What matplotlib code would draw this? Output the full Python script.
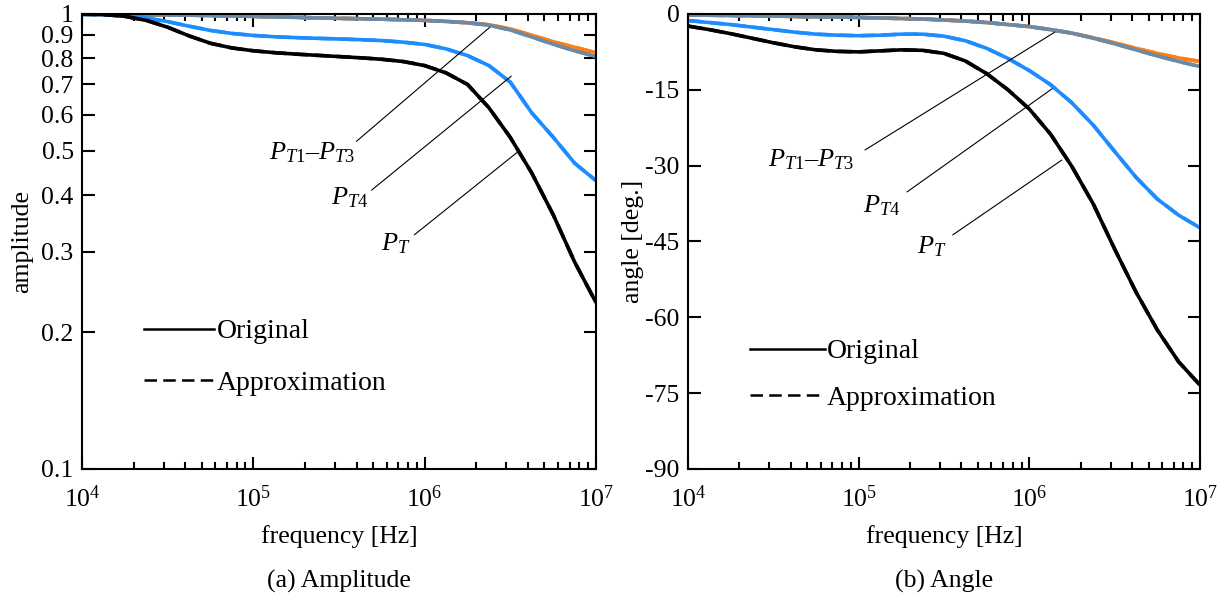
import numpy as np
import matplotlib
matplotlib.use("Agg")
import matplotlib.pyplot as plt
from matplotlib.lines import Line2D

plt.rcParams['font.family'] = ['Liberation Serif', 'DejaVu Serif']
plt.rcParams['mathtext.fontset'] = 'custom'
plt.rcParams['mathtext.rm'] = 'Liberation Serif'
plt.rcParams['mathtext.it'] = 'Liberation Serif:italic'
plt.rcParams['axes.unicode_minus'] = False

# frequency grid (log10 Hz)
log_f = [4.0, 4.125, 4.25, 4.375, 4.5, 4.625, 4.75, 4.875, 5.0, 5.125, 5.25, 5.375,
         5.5, 5.625, 5.75, 5.875, 6.0, 6.125, 6.25, 6.375, 6.5, 6.625, 6.75, 6.875, 7.0]

# amplitude
amp_pt = [0.999, 0.997, 0.988, 0.968, 0.935, 0.895, 0.862, 0.842, 0.830, 0.822, 0.816, 0.811,
          0.806, 0.801, 0.795, 0.786, 0.770, 0.742, 0.700, 0.622, 0.535, 0.447, 0.362, 0.285, 0.232]
amp_pt4 = [0.998, 0.997, 0.992, 0.980, 0.962, 0.940, 0.920, 0.906, 0.897, 0.891, 0.887, 0.884,
           0.881, 0.878, 0.874, 0.867, 0.857, 0.838, 0.810, 0.770, 0.708, 0.606, 0.536, 0.470, 0.430]
amp_pt1 = [0.998, 0.998, 0.997, 0.996, 0.995, 0.994, 0.992, 0.990, 0.988, 0.985, 0.983, 0.980,
           0.978, 0.976, 0.974, 0.971, 0.968, 0.963, 0.957, 0.947, 0.927, 0.898, 0.869, 0.845, 0.822]
amp_pt23 = [0.998, 0.998, 0.997, 0.996, 0.995, 0.994, 0.992, 0.990, 0.988, 0.985, 0.983, 0.980,
            0.978, 0.976, 0.974, 0.971, 0.968, 0.963, 0.956, 0.945, 0.922, 0.890, 0.858, 0.830, 0.806]

# angle [deg]
ang_pt = [-2.4, -3.1, -3.9, -4.8, -5.7, -6.5, -7.1, -7.4, -7.5, -7.3, -7.1, -7.2,
          -7.8, -9.3, -11.8, -15.0, -18.8, -23.8, -30.2, -37.6, -46.5, -55.0, -62.5, -68.8, -73.4]
ang_pt4 = [-1.3, -1.7, -2.1, -2.6, -3.1, -3.6, -4.0, -4.2, -4.3, -4.2, -4.0, -4.0,
           -4.4, -5.3, -6.8, -8.8, -11.2, -14.0, -17.6, -22.0, -27.2, -32.3, -36.6, -39.8, -42.3]
ang_pt1 = [-0.2, -0.25, -0.3, -0.35, -0.4, -0.5, -0.55, -0.6, -0.7, -0.8, -0.9, -1.0,
           -1.2, -1.4, -1.7, -2.1, -2.5, -3.1, -3.8, -4.7, -5.7, -6.8, -7.8, -8.7, -9.4]
ang_pt23 = [-0.2, -0.25, -0.3, -0.35, -0.4, -0.5, -0.55, -0.6, -0.7, -0.8, -0.9, -1.0,
            -1.2, -1.4, -1.7, -2.1, -2.5, -3.1, -3.8, -4.8, -5.9, -7.1, -8.3, -9.4, -10.4]

amp_ticks = [0.1, 0.2, 0.3, 0.4, 0.5, 0.6, 0.7, 0.8, 0.9, 1.0]
amp_tick_labels = ["0.1", "0.2", "0.3", "0.4", "0.5", "0.6", "0.7", "0.8", "0.9", "1"]
ang_ticks = [0, -15, -30, -45, -60, -75, -90]

freq = 10 ** np.array(log_f)

C_ORANGE = '#FF7F0E'
C_GRAY = '#6B8AA8'
C_BLUE = '#1C8CFF'
C_BLACK = 'black'
FS = 18.5
FS_LEG = 20

fig = plt.figure(figsize=(12.31, 6.12), dpi=100)
ax1 = fig.add_axes([0.0666, 0.2337, 0.4176, 0.7435])
ax2 = fig.add_axes([0.5589, 0.2337, 0.4159, 0.7435])


def draw_curves(ax, series):
    for y, col in series:
        ax.plot(freq, y, color=col, lw=2.6, solid_capstyle='butt')
        ax.plot(freq, y, color=col, lw=2.6, ls=(0, (4, 2)), alpha=0.9)


def style_axes(ax):
    ax.set_xscale('log')
    ax.set_xlim(1e4, 1e7)
    ax.tick_params(which='both', direction='in', top=True, right=True, width=1.5,
                   labelsize=FS)
    ax.tick_params(which='major', length=9)
    ax.tick_params(which='minor', length=5)
    ax.tick_params(axis='x', pad=12)
    ax.tick_params(axis='y', pad=6)
    for s in ax.spines.values():
        s.set_linewidth(1.5)
    ax.set_xlabel('frequency [Hz]', fontsize=FS, labelpad=9)


# amplitude panel
draw_curves(ax1, [(amp_pt1, C_ORANGE), (amp_pt23, C_GRAY), (amp_pt4, C_BLUE), (amp_pt, C_BLACK)])
style_axes(ax1)
ax1.set_yscale('log')
ax1.set_ylim(0.1, 1.0)
ax1.set_yticks(amp_ticks, labels=amp_tick_labels)
ax1.yaxis.set_minor_locator(matplotlib.ticker.NullLocator())
ax1.set_ylabel('amplitude', fontsize=FS, labelpad=6)

ax1.annotate('', xy=(2.4e6, 0.935), xytext=(4.0e5, 0.525),
             arrowprops=dict(arrowstyle='-', lw=0.8, shrinkA=0, shrinkB=0))
ax1.annotate('', xy=(3.2e6, 0.73), xytext=(4.9e5, 0.41),
             arrowprops=dict(arrowstyle='-', lw=0.8, shrinkA=0, shrinkB=0))
ax1.annotate('', xy=(3.55e6, 0.50), xytext=(8.7e5, 0.327),
             arrowprops=dict(arrowstyle='-', lw=0.8, shrinkA=0, shrinkB=0))
ax1.text(2.2e5, 0.495, r'$P_{T1}$–$P_{T3}$', fontsize=19, ha='center', va='center')
ax1.text(3.65e5, 0.394, r'$P_{T4}$', fontsize=19, ha='center', va='center')
ax1.text(6.8e5, 0.312, r'$P_T$', fontsize=19, ha='center', va='center')

h = [Line2D([], [], color='black', lw=1.8),
     Line2D([], [], color='black', lw=1.8, ls=(0, (5, 2.5)))]
ax1.legend(h, ['Original', 'Approximation'], loc='upper left', bbox_to_anchor=(0.121, 0.33),
           frameon=False, fontsize=FS_LEG, handlelength=2.52, handletextpad=0.08,
           labelspacing=0.94, borderpad=0, borderaxespad=0)

# angle panel
draw_curves(ax2, [(ang_pt1, C_ORANGE), (ang_pt23, C_GRAY), (ang_pt4, C_BLUE), (ang_pt, C_BLACK)])
style_axes(ax2)
ax2.set_ylim(-90, 0)
ax2.set_yticks(ang_ticks)
ax2.set_ylabel('angle [deg.]', fontsize=FS, labelpad=1)

ax2.annotate('', xy=(1.41e6, -3.6), xytext=(1.09e5, -26.9),
             arrowprops=dict(arrowstyle='-', lw=0.8, shrinkA=0, shrinkB=0))
ax2.annotate('', xy=(1.36e6, -14.8), xytext=(1.92e5, -35.2),
             arrowprops=dict(arrowstyle='-', lw=0.8, shrinkA=0, shrinkB=0))
ax2.annotate('', xy=(1.55e6, -28.9), xytext=(3.56e5, -43.7),
             arrowprops=dict(arrowstyle='-', lw=0.8, shrinkA=0, shrinkB=0))
ax2.text(5.25e4, -28.9, r'$P_{T1}$–$P_{T3}$', fontsize=19, ha='center', va='center')
ax2.text(1.37e5, -38.0, r'$P_{T4}$', fontsize=19, ha='center', va='center')
ax2.text(2.7e5, -46.1, r'$P_T$', fontsize=19, ha='center', va='center')

ax2.legend(h, ['Original', 'Approximation'], loc='upper left', bbox_to_anchor=(0.121, 0.286),
           frameon=False, fontsize=FS_LEG, handlelength=2.7, handletextpad=0.08,
           labelspacing=0.76, borderpad=0, borderaxespad=0)

fig.text(0.2754, 0.05, '(a) Amplitude', fontsize=18.5, ha='center', va='center')
fig.text(0.767, 0.05, '(b) Angle', fontsize=18.5, ha='center', va='center')

fig.savefig('out.png', dpi=100)
